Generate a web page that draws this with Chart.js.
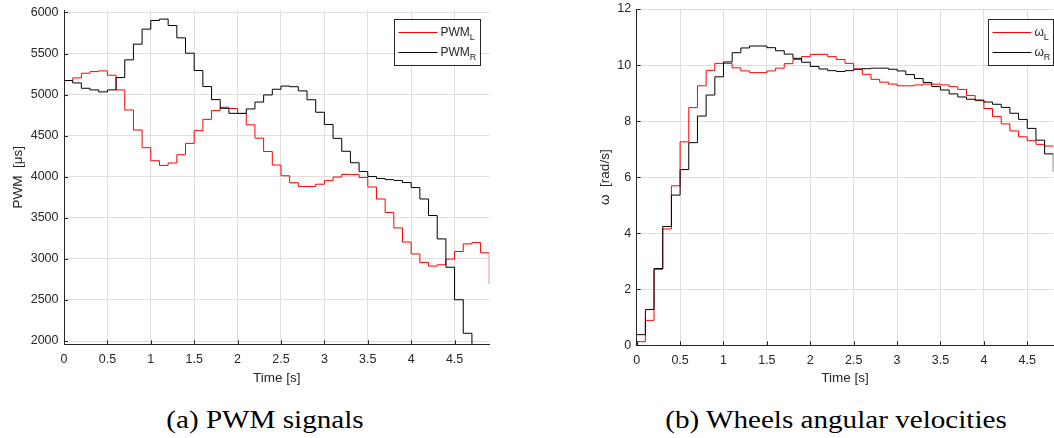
<!DOCTYPE html>
<html>
<head>
<meta charset="utf-8">
<title>PWM signals and wheel angular velocities</title>
<script src="https://cdn.jsdelivr.net/npm/chart.js@4.4.1/dist/chart.umd.min.js"></script>
<style>
  html, body { margin: 0; padding: 0; background: #fff; }
  body { width: 1054px; height: 438px; position: relative; overflow: hidden; }
  .panel { position: absolute; top: 0; height: 400px; }
  #pwmPanel { left: 0; width: 520px; }
  #omegaPanel { left: 590px; width: 464px; }
  .caption {
    position: absolute; top: 405px; line-height: 30px;
    font-family: 'Liberation Serif', 'Times New Roman', serif; font-size: 26px; color: #000;
    white-space: nowrap; transform: translateX(-50%) scaleX(1.12);
  }
</style>
</head>
<body>
<div class="panel" id="pwmPanel"><canvas id="pwmChart"></canvas></div>
<div class="panel" id="omegaPanel"><canvas id="omegaChart"></canvas></div>
<div class="caption" style="left:265px">(a) PWM signals</div>
<div class="caption" style="left:836px">(b) Wheels angular velocities</div>

<script>
// sample instants (s), controller runs at 10 Hz
const pwmTime = [0, 0.1, 0.2, 0.3, 0.4, 0.5, 0.6, 0.7, 0.8, 0.9,
                 1.0, 1.1, 1.2, 1.3, 1.4, 1.5, 1.6, 1.7, 1.8, 1.9,
                 2.0, 2.1, 2.2, 2.3, 2.4, 2.5, 2.6, 2.7, 2.8, 2.9,
                 3.0, 3.1, 3.2, 3.3, 3.4, 3.5, 3.6, 3.7, 3.8, 3.9,
                 4.0, 4.1, 4.2, 4.3, 4.4, 4.5, 4.6, 4.7, 4.8, 4.9];
const omegaTime = pwmTime.slice(0, 49);

// PWM pulse widths [us]
const pwmLeft = [5171, 5203, 5260, 5280, 5289, 5236, 5057, 4813, 4569, 4354,
                 4195, 4138, 4167, 4268, 4406, 4561, 4699, 4805, 4846, 4830,
                 4770, 4632, 4470, 4307, 4142, 4012, 3927, 3882, 3882, 3909,
                 3952, 3996, 4028, 4026, 3990, 3875, 3729, 3565, 3377, 3205,
                 3060, 2956, 2912, 2928, 2997, 3090, 3182, 3198, 3074, 2695];
const pwmRight = [5171, 5142, 5077, 5057, 5033, 5057, 5207, 5423, 5614, 5797,
                  5902, 5919, 5841, 5691, 5504, 5293, 5098, 4939, 4833, 4772,
                  4772, 4825, 4909, 4996, 5065, 5104, 5096, 5045, 4937, 4785,
                  4636, 4467, 4310, 4170, 4063, 4002, 3978, 3965, 3955, 3929,
                  3868, 3729, 3528, 3243, 2898, 2502, 2094, 1800];

// wheel angular velocities [rad/s]
const omegaLeft = [0.13, 0.89, 2.71, 4.15, 5.69, 7.26, 8.48, 9.26, 9.81, 10.06,
                   10.06, 9.90, 9.79, 9.73, 9.73, 9.79, 9.89, 10.05, 10.20, 10.30,
                   10.38, 10.38, 10.30, 10.20, 10.06, 9.86, 9.67, 9.49, 9.39, 9.32,
                   9.26, 9.26, 9.29, 9.32, 9.32, 9.29, 9.23, 9.13, 8.91, 8.73,
                   8.45, 8.16, 7.90, 7.65, 7.44, 7.30, 7.17, 7.11, 7.07];
const omegaRight = [0.38, 1.28, 2.74, 4.24, 5.36, 6.27, 7.23, 8.18, 8.93, 9.58,
                    10.11, 10.44, 10.61, 10.68, 10.68, 10.62, 10.51, 10.39, 10.24, 10.10,
                    9.95, 9.86, 9.80, 9.77, 9.80, 9.85, 9.87, 9.89, 9.89, 9.85,
                    9.79, 9.66, 9.52, 9.38, 9.23, 9.11, 8.97, 8.86, 8.78, 8.75,
                    8.68, 8.60, 8.49, 8.28, 8.06, 7.74, 7.32, 6.83, 6.19];

const timeTicks = [0, 0.5, 1, 1.5, 2, 2.5, 3, 3.5, 4, 4.5];
const pwmTicks = [2000, 2500, 3000, 3500, 4000, 4500, 5000, 5500, 6000];
const omegaTicks = [0, 2, 4, 6, 8, 10, 12];

const axisColor = '#262626';
const gridColor = '#dfdfdf';
const sansFont = "'Liberation Sans', Arial, Helvetica, sans-serif";

const toPoints = (t, v) => v.map((y, i) => ({ x: t[i], y }));
const plainNumber = v => String(v);

// small ticks pointing into the plot, as in the original axes
const inwardTicks = {
  id: 'inwardTicks',
  afterDraw(chart) {
    const { ctx, chartArea, scales } = chart;
    ctx.save();
    ctx.strokeStyle = axisColor;
    ctx.lineWidth = 1;
    ctx.beginPath();
    scales.x.ticks.forEach(t => {
      const px = Math.round(scales.x.getPixelForValue(t.value)) + 0.5;
      ctx.moveTo(px, chartArea.bottom);
      ctx.lineTo(px, chartArea.bottom - 4);
    });
    scales.y.ticks.forEach(t => {
      const py = Math.round(scales.y.getPixelForValue(t.value)) + 0.5;
      ctx.moveTo(chartArea.left, py);
      ctx.lineTo(chartArea.left + 4, py);
    });
    ctx.stroke();
    ctx.restore();
  }
};

// boxed legend with subscripted labels
const boxLegend = {
  id: 'boxLegend',
  afterDatasetsDraw(chart, args, opts) {
    const { ctx, chartArea } = chart;
    const x = Math.round(chartArea.right - opts.right - opts.width) + 0.5;
    const y = Math.round(chartArea.top + opts.top) + 0.5;
    ctx.save();
    ctx.fillStyle = '#fff';
    ctx.fillRect(x, y, opts.width, opts.height);
    ctx.strokeStyle = axisColor;
    ctx.lineWidth = 1;
    ctx.strokeRect(x, y, opts.width, opts.height);
    chart.data.datasets.forEach((ds, i) => {
      const ly = Math.round(y + 12.5 + i * 20.3) + 0.5;
      ctx.strokeStyle = ds.borderColor;
      ctx.beginPath();
      ctx.moveTo(x + 4, ly);
      ctx.lineTo(x + 43, ly);
      ctx.stroke();
      ctx.fillStyle = axisColor;
      ctx.textBaseline = 'alphabetic';
      ctx.font = '12px ' + sansFont;
      ctx.fillText(ds.label, x + 46, ly + 3.5);
      const w = ctx.measureText(ds.label).width;
      ctx.font = '9px ' + sansFont;
      ctx.fillText(ds.sub, x + 46 + w, ly + 7.5);
    });
    ctx.restore();
  }
};

function makeChart(id, cfg) {
  return new Chart(document.getElementById(id), {
    type: 'line',
    data: {
      datasets: [
        { label: cfg.label, sub: 'L', data: toPoints(cfg.time, cfg.left), borderColor: '#ff0000', order: 1 },
        { label: cfg.label, sub: 'R', data: toPoints(cfg.time, cfg.right), borderColor: '#000000', order: 0 }
      ]
    },
    options: {
      responsive: true,
      maintainAspectRatio: false,
      animation: false,
      events: [],
      datasets: { line: { stepped: 'before', borderWidth: 1, pointRadius: 0, tension: 0 } },
      layout: { padding: { top: cfg.top, right: cfg.padRight, bottom: 0, left: 0 } },
      scales: {
        x: {
          type: 'linear', min: 0, max: cfg.xMax,
          afterBuildTicks: s => { s.ticks = timeTicks.map(v => ({ value: v })); },
          afterFit: s => { s.height = cfg.xHeight; s.paddingLeft = 0; s.paddingRight = 0; },
          grid: { color: gridColor, drawTicks: false },
          border: { color: axisColor, width: 1 },
          ticks: { color: axisColor, padding: 7.5, maxRotation: 0, callback: plainNumber,
                   font: { family: sansFont, size: 12.5 } },
          title: { display: true, text: 'Time [s]', color: axisColor, padding: { bottom: 14 },
                   font: { family: sansFont, size: 13.5 } }
        },
        y: {
          type: 'linear', min: cfg.yMin, max: cfg.yMax,
          afterBuildTicks: s => { s.ticks = cfg.yTicks.map(v => ({ value: v })); },
          afterFit: s => { s.width = cfg.yWidth; s.paddingTop = 0; s.paddingBottom = 0; },
          grid: { color: gridColor, drawTicks: false },
          border: { color: axisColor, width: 1 },
          ticks: { color: axisColor, padding: 5.5, callback: plainNumber,
                   font: { family: sansFont, size: 12.5 } },
          title: { display: true, text: cfg.yTitle, color: axisColor, padding: { top: cfg.yTitlePad },
                   font: { family: sansFont, size: 13.5 } }
        }
      },
      plugins: {
        legend: { display: false },
        tooltip: { enabled: false },
        boxLegend: cfg.legend
      }
    },
    plugins: [inwardTicks, boxLegend]
  });
}

makeChart('pwmChart', {
  label: 'PWM', time: pwmTime, left: pwmLeft, right: pwmRight,
  xMax: 4.9, yMin: 1960, yMax: 6030, yTicks: pwmTicks,
  top: 10, padRight: 30.7, xHeight: 55.7, yWidth: 64,
  yTitle: 'PWM  [\u03bcs]', yTitlePad: 10,
  legend: { right: 9.3, top: 9.3, width: 86, height: 46 }
});

makeChart('omegaChart', {
  label: '\u03c9', time: omegaTime, left: omegaLeft, right: omegaRight,
  xMax: 4.8, yMin: 0, yMax: 12, yTicks: omegaTicks,
  top: 9, padRight: 0.7, xHeight: 54.7, yWidth: 46.7,
  yTitle: '\u03c9  [rad/s]', yTitlePad: 7,
  legend: { right: 0.5, top: 10, width: 65, height: 46 }
});
</script>
</body>
</html>
